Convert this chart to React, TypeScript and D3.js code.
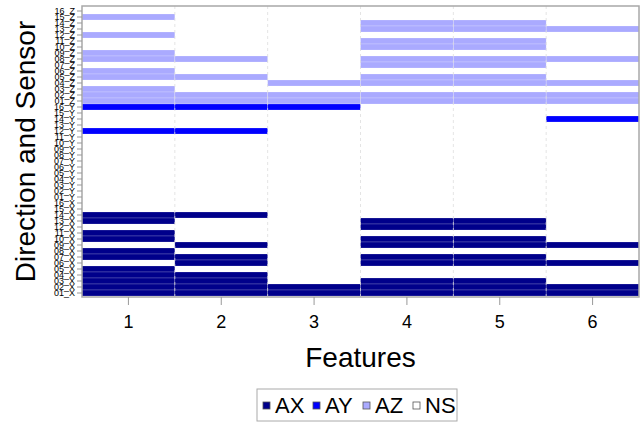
import React, { useEffect, useRef } from "react";
import * as d3 from "d3";

// features on the x axis
const features = [1, 2, 3, 4, 5, 6];
// sensors, listed top to bottom inside each direction block
const sensors = ["16", "15", "14", "13", "12", "11", "10", "09", "08", "07", "06", "05", "04", "03", "02", "01"];
// direction blocks, top to bottom
const directions = ["Z", "Y", "X"];

// for every sensor (16 -> 01): features where that direction was picked
const activeZ: number[][] = [
  [], [1], [4, 5], [4, 5, 6], [1], [4, 5], [4, 5], [1],
  [1, 2, 4, 5, 6], [4, 5], [1], [1, 2, 4, 5], [3, 4, 5, 6], [1], [1, 2, 3, 4, 5, 6], [1, 2, 3, 4, 5, 6],
];
const activeY: number[][] = [
  [1, 2, 3], [], [6], [], [1, 2], [], [], [],
  [], [], [], [], [], [], [], [],
];
const activeX: number[][] = [
  [], [], [1, 2], [1, 4, 5], [4, 5], [1], [1, 4, 5], [2, 4, 5, 6],
  [1], [1, 2, 4, 5], [2, 4, 5, 6], [1], [1, 2], [1, 2, 4, 5], [1, 2, 3, 4, 5, 6], [1, 2, 3, 4, 5, 6],
];

const legendLabels = ["AX", "AY", "AZ", "NS"];
const legendColors = ["#00008b", "#0000ff", "#aaaaff", "#ffffff"];

const FONT = "'Liberation Sans', Arial, sans-serif";

const App = () => {
  const svgRef = useRef<SVGSVGElement>(null);

  useEffect(() => {
    const width = 643;
    const height = 422;
    const box = { left: 82, right: 639, top: 6, bottom: 297 };

    const svg = d3.select(svgRef.current);
    svg.selectAll("*").remove();
    svg.attr("viewBox", [0, 0, width, height]).style("font-family", FONT);

    const rowLabels = directions.flatMap((dir) => sensors.map((s) => `${s}_${dir}`));

    const x = d3
      .scaleBand<number>()
      .domain(features)
      .range([box.left, box.right]);

    const y = d3
      .scaleBand<string>()
      .domain(rowLabels)
      .range([box.top + 2, box.bottom - 1]);

    const color = d3.scaleOrdinal<string, string>().domain(legendLabels).range(legendColors);

    const active: Record<string, number[][]> = { X: activeX, Y: activeY, Z: activeZ };
    const cells: { row: string; f: number; code: string }[] = [];
    directions.forEach((dir) => {
      sensors.forEach((s, i) => {
        features.forEach((f) => {
          const on = active[dir][i].includes(f);
          cells.push({ row: `${s}_${dir}`, f, code: on ? "A" + dir : "NS" });
        });
      });
    });

    // plot background
    svg
      .append("rect")
      .attr("x", box.left)
      .attr("y", box.top)
      .attr("width", box.right - box.left)
      .attr("height", box.bottom - box.top)
      .attr("fill", "#fff");

    // cells (NS stays white)
    svg
      .append("g")
      .selectAll("rect")
      .data(cells.filter((c) => c.code !== "NS"))
      .join("rect")
      .attr("x", (d) => x(d.f)!)
      .attr("y", (d) => y(d.row)!)
      .attr("width", x.bandwidth())
      .attr("height", y.bandwidth())
      .attr("fill", (d) => color(d.code))
      .attr("stroke", "#ffffff")
      .attr("stroke-opacity", 0.3)
      .attr("stroke-width", 0.6);

    // dashed grid at feature boundaries
    svg
      .append("g")
      .selectAll("line")
      .data(features.slice(1))
      .join("line")
      .attr("x1", (d) => x(d)!)
      .attr("x2", (d) => x(d)!)
      .attr("y1", box.top)
      .attr("y2", box.bottom)
      .attr("stroke", "#d8d8d8")
      .attr("stroke-opacity", 0.7)
      .attr("stroke-dasharray", "3,3");

    // frame
    svg
      .append("rect")
      .attr("x", box.left)
      .attr("y", box.top)
      .attr("width", box.right - box.left)
      .attr("height", box.bottom - box.top)
      .attr("fill", "none")
      .attr("stroke", "#a8a8a8")
      .attr("stroke-width", 1.5);

    // x axis
    const gx = svg
      .append("g")
      .attr("transform", `translate(0,${box.bottom})`)
      .call(d3.axisBottom(x).tickSize(8).tickPadding(10));
    gx.select(".domain").remove();
    gx.selectAll("line").attr("stroke", "#999");
    gx.selectAll("text").attr("fill", "#000").style("font-size", "18px").style("font-family", FONT);

    // y axis (labels overlap like in the original)
    const gy = svg
      .append("g")
      .attr("transform", `translate(${box.left},0)`)
      .call(d3.axisLeft(y).tickSize(5).tickPadding(2));
    gy.select(".domain").remove();
    gy.selectAll("line").attr("stroke", "#999");
    gy.selectAll("text")
      .attr("fill", "#000")
      .style("font-size", "9px")
      .style("font-family", FONT);

    // axis titles
    svg
      .append("text")
      .attr("x", (box.left + box.right) / 2)
      .attr("y", 367)
      .attr("text-anchor", "middle")
      .style("font-size", "28px")
      .text("Features");

    svg
      .append("text")
      .attr("transform", `translate(35,${(box.top + box.bottom) / 2}) rotate(-90)`)
      .attr("text-anchor", "middle")
      .style("font-size", "28px")
      .text("Direction and Sensor");

    // legend
    const legend = svg.append("g").attr("transform", "translate(257,389)");
    legend
      .append("rect")
      .attr("width", 200)
      .attr("height", 32)
      .attr("fill", "#fff")
      .attr("stroke", "#aaa");
    const item = legend
      .selectAll("g")
      .data(legendLabels)
      .join("g")
      .attr("transform", (_, i) => `translate(${6 + i * 50},0)`);
    item
      .append("rect")
      .attr("x", 0)
      .attr("y", 13)
      .attr("width", 7)
      .attr("height", 7)
      .attr("fill", (d) => color(d))
      .attr("stroke", "#555")
      .attr("stroke-width", 0.8);
    item
      .append("text")
      .attr("x", 12)
      .attr("y", 24)
      .style("font-size", "22px")
      .text((d) => d);
  }, []);

  return (
    <svg
      ref={svgRef}
      width={643}
      height={422}
      style={{ position: "absolute", left: 0, top: 0, background: "#fff" }}
    />
  );
};

export default App;
